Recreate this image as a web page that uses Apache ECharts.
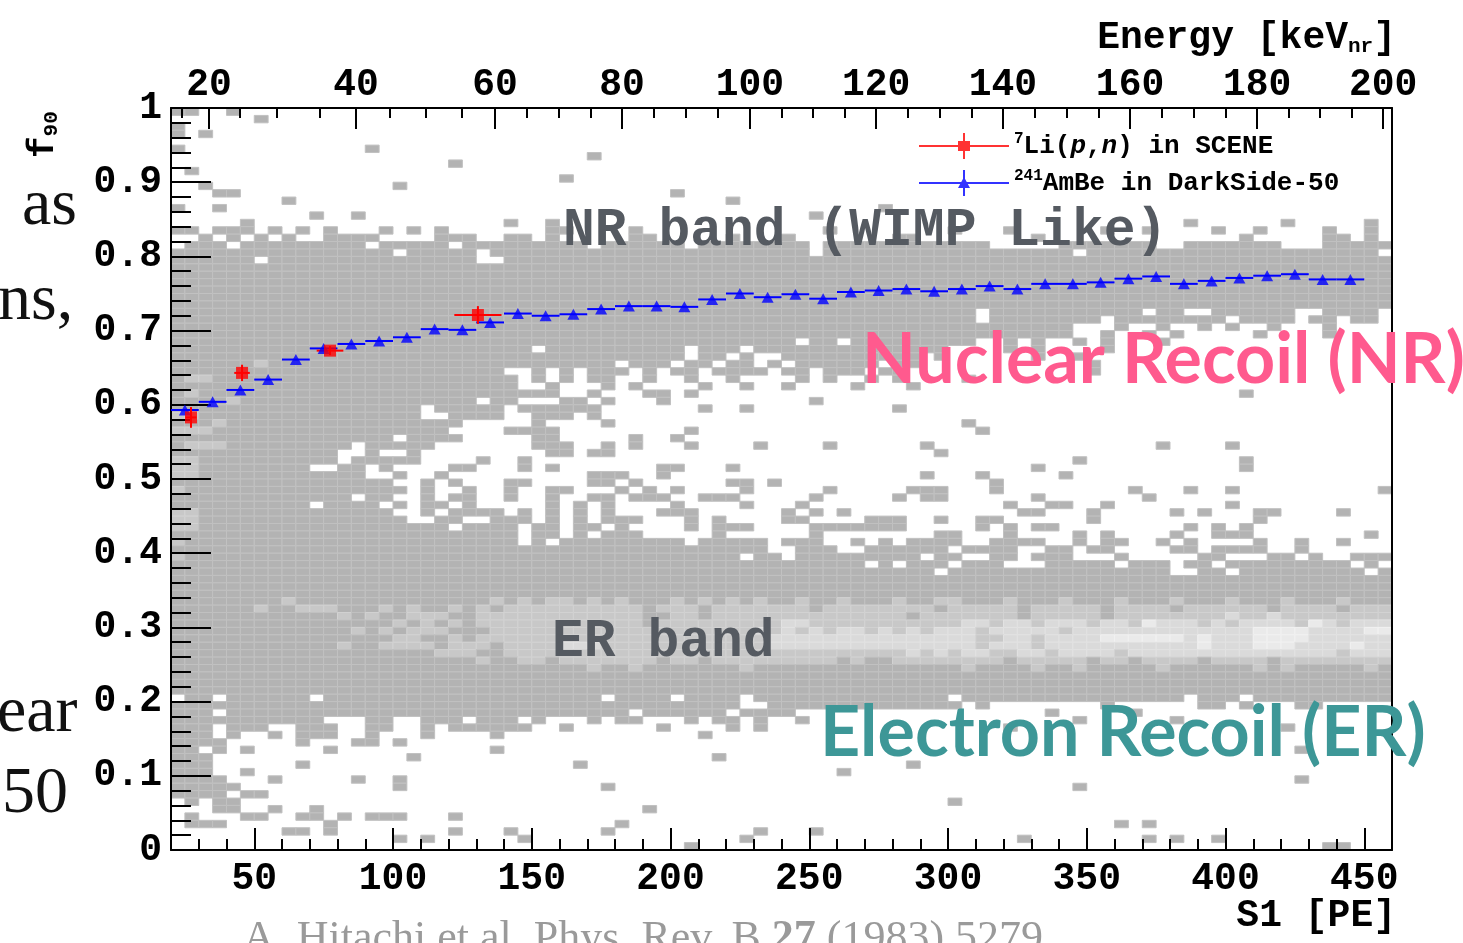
<!DOCTYPE html>
<html>
<head>
<meta charset="utf-8">
<title>f90 vs S1</title>
<script src="https://cdn.jsdelivr.net/npm/echarts@6/dist/echarts.min.js"></script>
<style>
  html, body { margin: 0; padding: 0; background: #fff; }
  #chart { width: 1463px; height: 943px; }
</style>
</head>
<body>
<div id="chart"></div>
<script>
// 2D histogram: S1 bins of 5 PE from 20, f90 bins of 0.01
const s1BinStart = 20
const s1BinWidth = 5
const f90BinWidth = 0.01
// one string per f90 bin, top row (0.99-1.00) first; '.' empty, a-d = grey shade (a darkest)
const heatRows = [
  'aa..a..... .......... .......... .......... .......... .......... .......... .......... ........',
  '......a... .......... .......... .......... .......... .......... .......... .......... ........',
  'a......... .......... .......... .......... .......... .......... .......... .......... ........',
  'a.a....... .......... .......... .......... .......... .......... .......... .......... ........',
  '.......... .......... .......... .......... .......... .......... .......... .......... ........',
  'a......... ....a..... .......... .......... .......... .......... .......... .......... ........',
  '.......... .......... .......... a......... .......... .......... .......... .......... ........',
  '.......... .......... a......... .......... .......... .......... .......... .......... ........',
  '.a........ .......... .......... .......... .......... .......... .......... .......... ........',
  '.......... .......... ........a. .......... .......... .......... .......... .......... ........',
  '..a....... ......a... .......... .......... .......... .......... .......... .......... ........',
  '...aa..... .......... .......... ......a... .......... .......... .......... .......... ........',
  '........a. .......... .......... .......... a......... .......... .......... .......... ........',
  'a..a...... .......... .......... .......... .......... .a........ .......... .......... ........',
  '.......... a..a...... .......... .......... ......a... .......... .......... .......... ........',
  '.....a.... .......... ....a..a.. .......... .......... .......... .......... ...a...... a.....a.',
  'aa.aaa.a.a .a...a.a.a .......aa. ...a...... .......a.. ......a... a......a.. a....a..a. ...a..a.',
  '..a.a.a.a. .aaaa....a aa..aa.a.. ...aa..... a...a..... ..aa...... ..a....... .......a.. ...aa.a.',
  '.aaa.aaaaa aaaa.aaaaa .aaaaaaaaa .aaaaaa.aa aaaaaa.aaa aaaaaaaaa. ....aaaaaa a..aaaaaaa ...aaaaa',
  'aaaaaaaaaa aaaaaa.aaa aa.aaaaaaa aaaaaaaaaa aaaaaa.aaa aaaaaaaaaa aaaaa.aaaa aaaaaaaaaa aaaaaaa.',
  'aaaaaa.aaa aaaaaaaaaa aa..aaaaaa aaaaaaaaaa aaaaaaaaaa aaaaaaaaaa aaaaaaaaaa aaaaaaaaaa aaaaaaaa',
  'aaaaaaaaaa aaaaaaaaaa aaaaaaaaaa aaaaaaaaaa aaaaaaaaaa aaaaaaaaaa aaaaaaaaaa aaaaaaaaaa aaaaaaaa',
  'aaaaaaaaaa aaaaaaaaaa aaaaaaaaaa aaaaaaaaaa aaaaaaaaaa aaaaaaaaaa aaaaaaaaaa aaaaaaaaaa aaaaaaaa',
  'aaaaaaaaaa aaaaaaaaaa aaaaaaaaaa aaaaaaaaaa aaaaaaaaaa aaaaaaaaaa aaaaaaaaaa aaaaaaaaaa aaaaaaaa',
  'aaaaaaaaaa aaaaaaaaaa aaaaaaaaaa aaaaaaaaaa aaaaaaaaaa aaaaaaaaaa aaaaaaaaaa aaaaaaaaaa aaaaaaaa',
  'aaaaaaaaaa aaaaaaaaaa aaaaaaaaaa aaaaaaaaaa aaaaaaaaaa aaaaaaaaaa aaaaaaaaaa aaaaaaaaaa aaaaaaaa',
  'aaaaaaaaaa aaaaaaaaaa aaaaaaaaaa aaaaaaaaaa aaaaaaaaaa aaaaaaaaaa aaaaaaaaaa aaaaaaaaaa aaaaaaaa',
  'aaaaaaaaaa aaaaaaaaaa aaaaaaaaaa aaaaaaaaaa aaaaaaaaaa aaaaaaaa.a aaaaaaaaaa .aa..aaaaa a..aaaa.',
  'aaaaaaaaaa aaaaaaaaaa aaaaaaaaaa aaaaaaaaaa aaaaaaaaaa aaaaaaaa.a aaaaaaa.aa aaaaaa.aaa a.aa.aa.',
  'aaaaaaaaaa aaaaaaaaaa aaaaaaaaaa aaaaaaaaaa aaaaaaaaaa aaaaaaaaaa aaaaa...a. .a..a.a..a ...a....',
  'aaaaaaaaaa aaaaaaaaaa aaaaaaaaaa aaaaaaaaaa aaaaaaaaaa aaaaaaaaaa aaaaa..a.. a.a.....a. ...a....',
  'aaaaaaaaaa aaaaaaaaaa aaaaaaaaaa aaaaaaaaaa aaaaa.aa.a aaaaaaaa.. a.a..a.a.. .a........ ........',
  'aaaaaaaaaa aaaaaaaaaa aaaaaa.aaa aaaaaaa.aa a.aaaaaaaa aaaaaa.... a.a....a.. .......... ........',
  'aaaaaaaaaa aaaaaaaaaa aaaaaaaaaa aaaaaaa.aa .a..aaaaaa aaaa.a.... ..a..a.... .......... ........',
  'aaaaaabaaa aaaaaaaaaa aaaaaaaaaa aa.aaa.aa. aa.a.aaaaa a.aa...... ......a... .......... ........',
  'aaaaaaaaaa aaaaaaaaaa aaaa..a.a. aaa.a.aa.a aaa.aa.aaa .aa....... ......a... .......... ........',
  'abbaaaaaaa aaaaaaaaaa aaaaa.a.a. aa..a..a.. a....a.a.. a.a....a.. .......... .......... ........',
  'aaaaaaaaaa aaaaaaaaaa aaaaa..a.. .a.a....a. .a..a....a ...a...... .......... .......... ........',
  'abaaaaaaaa aaaaaaaaaa aaaaaaaa.. a...aa.a.. .......... .......... .......... .......a.. ........',
  'aaaabaaaaa aaaaaaaaaa aa.aa...aa .a...a.... ......a... .......... .......... .......... ........',
  'aaaaaaaaaa aaaaaaaa.a aaaa.aaaaa a.......a. .a........ ..a....... .......... .......... ........',
  'bbaaaaaaaa aaaaaaaa.. aaaa..aaa. a......... .......... .......... .......... .......... ........',
  'aaabaaaaaa aaaaaaaaaa a.....a... .a........ .......... .......a.. .......... .......... ........',
  'bbbaaaaaaa aaaaaaaaaa ....aaaa.. .......a.. .......... ........a. .......... .......... ........',
  'aaaaaaaaaa aaaaaa.aaa a.....aa.. ...a..a... .......... .......... .......... .......... ........',
  'abbbaaaaaa aaa.aaaaa. ......aaa. .a.a...a.. ..a....a.. ....a..... .......... .a....a... ........',
  'aaaaaaaaaa aa..a..a.. .......aa. aa........ .......... .....a.... .......... .......... ........',
  'bbaaaaaaaa aa.aaaaa.. ..a..a.... .......... .......... .......... .....a.... .......a.. ........',
  'bbaaaaaaaa ..aa.a.... aa...a.a.. .....aa... a......... .......... ..a....... .......a.. ........',
  'bbaaaaaaaa aaaa..a..a .......... aaa..a.... .......... ....a...a. ....a..... .......... ........',
  'aaaaaaaaaa aaaaaa..a. a...aa.... aa.a...... aa.a...... .........a .......... .......... ........',
  'baaaaaaaaa aaaaaaa.a. .a..a..aa. ..a.a.a... .a.....a.. ...aaa...a .........a ...a..a... .......a',
  'aaaaaaaaaa aaa.aa..a. aa..a..a.. aa.aaa..aa a.....a... ..a.aa.... ..a....... a......... ........',
  'aaaaaaaaaa .aaaa.a.aa .a.....a.a .a....a... .a...a.... .......... a..aa..a.. ......a... ........',
  'bbaaaaaaaa aaaaaa..a. aaaa.a.a.a .a...aaa.. ....a.a.a. .......... .aa...a... ..a.a...aa ....a...',
  'bbaaaaaaaa aaaaaaa..a a..aaa.a.a .aaa...a.a ....aa.... aaa..a..aa ......a... ........a. ........',
  'bbaaaaaaaa aaaaaaaaaa .aaaa.aa.a a.a....a.a aa....aaaa aaa.....a. a.aa...... ...a.a.a.. ........',
  'aaaaaaaaaa aaaaaaaaaa aaaaa.aa.a .aaa.....a ......a... .....aa... a....a.a.. ..a..aaa.. ......a.',
  'baaaaaaaaa aaaaaaaaaa aaaaa.a.aa aaaaaaa.aa aaa.aaa..a .a.aaaa..a aaa..a.aa. .a.a....a. .a..a...',
  'aaaaaaaaaa aaaaaaaaaa aaaaaaaaaa aaaaaaaaaa aaa..aaa.. aaaaaa.aaa a..aa.aa.. ..aa.aaaa. .a......',
  'baaaaaaaaa aaaaaaaaaa aaaaaaaaaa aaaaaaaaaa a.aa.aaaaa aaaa.aa..a a.aaa...a. ....aa...a a.a..aaa',
  'aaaaaaaaaa aaaaaaaaaa aaaaaaaaaa aaaaaaaaaa aaaaaaaaaa .a.aaa.aaa ...aaaaa.a aa.aa.aaaa aaaaa.a.',
  'aaaaaaaaaa aaaaaaaaaa aaaaaaaaaa aaaaaaaaaa aaaaaaaaaa aaaaa.aaaa aaaaaaaaaa aa..aa.aaa aaaaaa.a',
  'aaaaaaaaaa aaaaaaaaaa aaaaaaaaaa aaaaaaaaaa aaaaaaaaaa aaaaaaaaaa aaaaaaaaaa aaaaaaaaaa aaaaaaaa',
  'aaaaaaaaaa aaaaaaaaaa aaaaaaaaaa aaaaaaaaaa aaaaaaaaaa aaaaaaaaaa aaaaaaaaaa aaaaaaaaaa aaaaaaaa',
  'aaaaaaaaaa aaaaaaaaaa aaaaaaaaaa aaaaaaaaaa aaaaaaaaaa aaaaaaaaaa aaaaaaaaaa aaaaaaaaaa aaaaaaaa',
  'aaaaaaaaba aaaaaaaaaa aaabababba babaaababa babaabaaba aabaabbaaa baaabaaaba aabaaabaaa baaabaaa',
  'aaaaaabaab bbaaababaa bababbbbbb bbbbabbbab bbbbbbabbb bbbbbabbbb babbbbbabb bbabbbbbba bbbbabbb',
  'aaaaaaaaaa aababaabbb aabbbbbbbb bbbbaabbab bbbbbbbbbb bbbabbbbbb babbbbbabb bbbbbbcbbc bbbbbbbb',
  'aaaaaaaaaa aaaaaababa babbbbbbbb bbbbabbbbb bbbbccbbbb bbbbbbbccb ccbcccbccb dcccbcbccc cbdcbccc',
  'aaaaaaaaaa aaabababbb aaabbbbbbb bbbbbbbbbb bbcbcbcbcc bcbcbcccbc ccccbccccc ccccccccdd ddccccdd',
  'aaaaaaaaaa aaaaaabbaa babbbbbbbb bbbbbbbbbb bbbccccccc ccccccccbb ccbccccddd dddcdcccdd ddcccccc',
  'aaaaaaaaaa aabaabbbba bbbabbbbcc cbbbbbbbbb bbbccccccc ccccccccbc ccbccccccc ccccdcccdd dccccdcc',
  'aaaaaaaaaa aaaaaaaaab bbaabbbbbb bbbbbbbbbb bbbbbbbbbb bbbcbcbccb bccbccccbc cccccccccc ccccbccc',
  'aaaaaaaaaa aaaaaaaaaa aabaabbabb bbbbbabbab bbbbbbbbab aabbbbbbbb abbbbbabba bbbbabbbba bbbbbbbb',
  'aaaaaaaaaa aaaaaaaaaa aaaaaaaaaa baabaaaaaa abaaaaaaaa aaaaaaabaa aabaabaaaa abaaaaaaba baaaaaba',
  'aaaaaaaaaa aaaaaaaaaa aaaaaaaaaa aaaaaaaaaa aaaaaaaaaa aaaaaaaaaa aaaaaaaaaa aaaaaaaaaa aaaaaaaa',
  'aaaaaaaaaa aaaaaaaaaa aaaaaaaaaa aaaaaaaaaa aaaaaaaaaa aaaaaaaaaa aaaaaaaaaa aaaaaaaaaa aaaaaaaa',
  'aaaaaaaaaa aaaaaaaaaa aaaaaaaaaa aaaaaaaaaa aaaaaaaaaa aaaaaaaaaa aaaaaaaaaa aaaaaaaaaa aaaaaaaa',
  '.aa.aaaaaa .aaaaaaaaa aaaaaaaaaa a.aaaa.aaa a.aaaaaaaa aaaaaa.aaa aaaaaaaaaa aaa.aaa.aa aaaaaaaa',
  'aaaaaaaaaa aaaaaaaaaa aaaaaaaaaa aaaaaaaaaa a..aaaaaaa aaaaaaa.a. .......a.. ....aa.a.. .aa.....',
  'aaa.aaaaaa aaaaaaaaaa aaaaaaaaaa aaa.aaaaaa .aaaa..... .......... ...a.....a .......... ........',
  'aaaaaaaaaa a...aa..aa a.aaa.a... a.aa...a.a a.a..a.... .......... .....a.... ..a....... ........',
  'aaa.aaa..a aa..aa..a. aaaaaa..a. .....a.... a.a....... .......... a......... .......... a.......',
  'aaa.a..a.a aa..a...a. ...a...... ........a. .......... .......... .......... .......... ........',
  'aaaa.....a ...aa.a... .......... .......... .......... .......... .......... .......... ........',
  'aa.a.a.... .a........ ...a...... .......... .......... .......... .......... .......... .a......',
  'aaa....... .......a.. .......... .........a .......... .......... .......... .......... ........',
  'aaa......a .......... .........a .......... .......... ...a...... .......... .......... ........',
  'aaa..a.... .......... .......... .......... ........a. .......... .......... .......... ........',
  'aaaa...a.. ...a..a... .......... .......... .......... .......... .......... .......... .a......',
  'aaaaa..... ......a... .......... .a........ .......... .......... .....a.... .......... ........',
  'aaaa.aa... .......... .......... .......... .......... .......... .......... .......... ........',
  '.a.aa..... .......... .......... .......... .......... ......a... .......... .......... ........',
  '...aa..a.. a......... .......... ....a..... .......... .......... .......... .......... ........',
  '.a...aa..a a.a.aaa... a......... .......... .......... .......... .......... .......... ........',
  '.aaa...... .a........ .......... ..a....... .......... .......... ........a. a......... ........',
  '........aa .a........ a...a..... .a........ ..a...a... .......... .......... .......... ........',
  '.......... ......a.a. .....a.... .......... .a........ .......... .a........ a.a..a.... ........',
  '.......... .......... .......... .......a.. .......... .......... .......... .......... ...aa...'
]

// 7Li(p,n) in SCENE
const sceneS1 = [27.2, 45.6, 77.3, 130.6]
const sceneF90 = [0.583, 0.643, 0.673, 0.721]
const sceneS1Err = [2, 2.8, 4.8, 8.5]
const sceneF90Err = [0.014, 0.011, 0.006, 0.012]

// 241AmBe in DarkSide-50 (10 PE wide bins)
const ambeS1 = [25, 35, 45, 55, 65, 75, 85, 95, 105, 115, 125, 135, 145, 155, 165, 175, 185, 195, 205, 215, 225,
  235, 245, 255, 265, 275, 285, 295, 305, 315, 325, 335, 345, 355, 365, 375, 385, 395, 405, 415, 425, 435, 445]
const ambeF90 = [0.593, 0.604, 0.620, 0.634, 0.661, 0.676, 0.682, 0.686, 0.691, 0.702, 0.701, 0.711, 0.723, 0.720,
  0.722, 0.729, 0.733, 0.733, 0.732, 0.742, 0.750, 0.745, 0.749, 0.743, 0.752, 0.754, 0.756, 0.753, 0.756, 0.760,
  0.756, 0.763, 0.763, 0.765, 0.770, 0.773, 0.763, 0.767, 0.771, 0.774, 0.776, 0.769, 0.769]
const ambeS1Err = 5

// axis ticks
const s1Major = [50, 100, 150, 200, 250, 300, 350, 400, 450]
const s1Minor = [30, 40, 60, 70, 80, 90, 110, 120, 130, 140, 160, 170, 180, 190, 210, 220, 230, 240, 260, 270, 280,
  290, 310, 320, 330, 340, 360, 370, 380, 390, 410, 420, 430, 440]
// top axis: energy [keVnr] ticks and where they sit on the S1 scale
const energyLabels = [20, 40, 60, 80, 100, 120, 140, 160, 180, 200]
const energyMajorS1 = [33.7, 86.7, 136.8, 182.5, 228.6, 274.1, 319.8, 365.6, 411.4, 456.8]
const energyMinorS1 = [23.9, 44.9, 58.2, 73.7, 98.9, 111.8, 124.8, 148.2, 159.7, 171.1, 194.0, 205.6, 217.1,
  240.0, 251.4, 262.8, 285.5, 297.0, 308.4, 331.3, 342.7, 354.2, 377.1, 388.5, 400.0, 422.8, 434.1, 445.5]

const MONO = '"Liberation Mono", "DejaVu Sans Mono", monospace'
const SERIF = '"Liberation Serif", "DejaVu Serif", serif'
const SANS = 'Lato, "Open Sans", sans-serif'
const shadeFill = ['#ffffff', '#b3b3b3', '#c8c8c8', '#dadada', '#eaeaea']
const shadeEdge = ['#ffffff', '#c1c1c1', '#d2d2d2', '#e2e2e2', '#f1f1f1']

const heatCells = []
heatRows.forEach(function (row, k) {
  const cells = row.replace(/ /g, '')
  for (let c = 0; c < cells.length; c++) {
    const lv = '.abcd'.indexOf(cells[c])
    if (lv <= 0) continue
    heatCells.push([s1BinStart + c * s1BinWidth, +(1 - (k + 1) * f90BinWidth).toFixed(2), lv])
  }
})

const sceneData = sceneS1.map((x, i) => [x, sceneF90[i], sceneS1Err[i], sceneF90Err[i]])
const ambeData = ambeS1.map((x, i) => [x, ambeF90[i], ambeS1Err, 0])

function renderCell (params, api) {
  const s1 = api.value(0), f = api.value(1), lv = api.value(2)
  const tl = api.coord([s1, f + f90BinWidth])
  const br = api.coord([s1 + s1BinWidth, f])
  return {
    type: 'rect',
    shape: { x: tl[0], y: tl[1], width: br[0] - tl[0], height: br[1] - tl[1] },
    style: { fill: shadeFill[lv], stroke: shadeEdge[lv], lineWidth: 1 }
  }
}

function errorBars (color) {
  return function (params, api) {
    const x = api.value(0), y = api.value(1), ex = api.value(2), ey = api.value(3)
    const l = api.coord([x - ex, y]), r = api.coord([x + ex, y])
    const t = api.coord([x, y + ey]), b = api.coord([x, y - ey])
    const st = { stroke: color, lineWidth: 2 }
    return {
      type: 'group',
      children: [
        { type: 'line', shape: { x1: l[0], y1: l[1], x2: r[0], y2: r[1] }, style: st },
        { type: 'line', shape: { x1: t[0], y1: t[1], x2: b[0], y2: b[1] }, style: st }
      ]
    }
  }
}

const NAME_LI = '7Li(p,n) in SCENE'
const NAME_AMBE = '241AmBe in DarkSide-50'
const labelFont = { fontFamily: MONO, fontWeight: 'bold', fontSize: 38, color: '#000' }
const tickStyle = { color: '#000', width: 2 }
const subStyle = { fontFamily: MONO, fontWeight: 'bold', fontSize: 21, verticalAlign: 'bottom', lineHeight: 18 }

const chart = echarts.init(document.getElementById('chart'))
chart.setOption({
  animation: false,
  backgroundColor: '#fff',
  grid: { left: 171, right: 71, top: 108, bottom: 93 },
  xAxis: [
    {
      type: 'value', position: 'bottom', min: 20, max: 460, z: 3,
      axisLine: { lineStyle: { color: '#000', width: 2 } },
      axisTick: { customValues: s1Major, inside: true, length: 22, lineStyle: tickStyle },
      axisLabel: Object.assign({ customValues: s1Major, margin: 10 }, labelFont),
      splitLine: { show: false }
    },
    {
      type: 'value', position: 'bottom', min: 20, max: 460, z: 3,
      axisLine: { show: false },
      axisTick: { customValues: s1Minor, inside: true, length: 11, lineStyle: tickStyle },
      axisLabel: { show: false },
      splitLine: { show: false }
    },
    {
      type: 'value', position: 'top', min: 20, max: 460, z: 3,
      axisLine: { lineStyle: { color: '#000', width: 2 } },
      axisTick: { customValues: energyMajorS1, inside: true, length: 21, lineStyle: tickStyle },
      axisLabel: Object.assign({
        customValues: energyMajorS1,
        margin: 4,
        formatter: function (v) {
          const i = energyMajorS1.findIndex(s => Math.abs(s - v) < 1e-6)
          return i >= 0 ? String(energyLabels[i]) : ''
        }
      }, labelFont),
      splitLine: { show: false }
    },
    {
      type: 'value', position: 'top', min: 20, max: 460, z: 3,
      axisLine: { show: false },
      axisTick: { customValues: energyMinorS1, inside: true, length: 10, lineStyle: tickStyle },
      axisLabel: { show: false },
      splitLine: { show: false }
    }
  ],
  yAxis: [
    {
      type: 'value', position: 'left', min: 0, max: 1, interval: 0.1, z: 3,
      axisLine: { show: true, lineStyle: { color: '#000', width: 2 } },
      axisTick: { show: true, inside: true, length: 40, lineStyle: tickStyle },
      minorTick: { show: true, splitNumber: 5, length: 20, lineStyle: tickStyle },
      axisLabel: Object.assign({
        margin: 9,
        formatter: function (v) { return (v === 0 || v === 1) ? String(v) : v.toFixed(1) }
      }, labelFont),
      splitLine: { show: false }
    },
    {
      type: 'value', position: 'right', min: 0, max: 1, z: 3,
      axisLine: { show: true, lineStyle: { color: '#000', width: 2 } },
      axisTick: { show: false },
      axisLabel: { show: false },
      splitLine: { show: false }
    }
  ],
  legend: {
    orient: 'vertical',
    left: 914,
    top: 126,
    itemWidth: 90,
    itemHeight: 26,
    itemGap: 7,
    itemStyle: { borderWidth: 0 },
    textStyle: {
      fontFamily: MONO, fontWeight: 'bold', fontSize: 26, color: '#000', lineHeight: 30,
      rich: {
        sup: { fontFamily: MONO, fontWeight: 'bold', fontSize: 16, lineHeight: 18, verticalAlign: 'top' },
        it: { fontFamily: MONO, fontWeight: 'bold', fontStyle: 'italic', fontSize: 26, lineHeight: 30 }
      }
    },
    formatter: function (name) {
      if (name === NAME_LI) return '{sup|7}Li({it|p},{it|n}) in SCENE'
      return '{sup|241}AmBe in DarkSide-50'
    },
    data: [
      { name: NAME_LI, icon: 'path://M0,12H90V14H0Z M44,0H46V26H44Z M39,8H51V18H39Z' },
      { name: NAME_AMBE, icon: 'path://M0,12H90V14H0Z M44,0H46V26H44Z M39,18L45,7L51,18Z' }
    ]
  },
  series: [
    {
      type: 'custom',
      name: 'f90 vs S1',
      renderItem: renderCell,
      data: heatCells,
      encode: { x: 0, y: 1 },
      clip: true,
      silent: true,
      progressive: 0,
      z: 1
    },
    {
      type: 'custom',
      name: NAME_AMBE + ' bars',
      renderItem: errorBars('#0000ff'),
      data: ambeData,
      encode: { x: 0, y: 1 },
      z: 4
    },
    {
      type: 'custom',
      name: NAME_LI + ' bars',
      renderItem: errorBars('#ff0000'),
      data: sceneData,
      encode: { x: 0, y: 1 },
      z: 4
    },
    {
      type: 'scatter',
      name: NAME_AMBE,
      symbol: 'triangle',
      symbolSize: [12, 11],
      itemStyle: { color: '#0000ff' },
      data: ambeData.map(d => [d[0], d[1]]),
      z: 5
    },
    {
      type: 'scatter',
      name: NAME_LI,
      symbol: 'rect',
      symbolSize: 12,
      itemStyle: { color: '#ff0000' },
      data: sceneData.map(d => [d[0], d[1]]),
      z: 6
    }
  ],
  graphic: [
    { type: 'text', x: 563, y: 232, z: 10, style: { text: 'NR band (WIMP Like)', font: 'bold 53px ' + MONO, fill: '#555a61', verticalAlign: 'middle' } },
    { type: 'text', x: 552, y: 643, z: 10, style: { text: 'ER band', font: 'bold 53px ' + MONO, fill: '#555a61', verticalAlign: 'middle' } },
    { type: 'text', x: 862, y: 360, z: 10, style: { text: 'Nuclear Recoil (NR)', font: 'bold 70px ' + SANS, fill: '#ff5a8e', verticalAlign: 'middle' } },
    { type: 'text', x: 820, y: 733, z: 10, style: { text: 'Electron Recoil (ER)', font: 'bold 70px ' + SANS, fill: '#3d9797', verticalAlign: 'middle' } },
    {
      type: 'text', x: 44, y: 158, rotation: Math.PI / 2, z: 10,
      style: { text: 'f{s|90}', font: 'bold 36px ' + MONO, fill: '#000', verticalAlign: 'middle', rich: { s: subStyle } }
    },
    {
      type: 'text', x: 1396, y: 38, z: 10,
      style: { text: 'Energy [keV{s|nr}]', font: 'bold 38px ' + MONO, fill: '#000', align: 'right', verticalAlign: 'middle', rich: { s: subStyle } }
    },
    { type: 'text', x: 1396, y: 916, z: 10, style: { text: 'S1 [PE]', font: 'bold 38px ' + MONO, fill: '#000', align: 'right', verticalAlign: 'middle' } },
    { type: 'text', x: 22, y: 207, z: 10, style: { text: 'as', font: '66px ' + SERIF, fill: '#111', verticalAlign: 'middle' } },
    { type: 'text', x: -2, y: 302, z: 10, style: { text: 'ns,', font: '66px ' + SERIF, fill: '#111', verticalAlign: 'middle' } },
    { type: 'text', x: -3, y: 714, z: 10, style: { text: 'ear', font: '66px ' + SERIF, fill: '#111', verticalAlign: 'middle' } },
    { type: 'text', x: 2, y: 795, z: 10, style: { text: '50', font: '66px ' + SERIF, fill: '#111', verticalAlign: 'middle' } },
    {
      type: 'text', x: 243, y: 939, z: 10,
      style: {
        text: 'A. Hitachi et al. Phys. Rev. B {b|27} (1983) 5279', font: '44px ' + SERIF, fill: '#9a9a9a', verticalAlign: 'middle',
        rich: { b: { fontFamily: SERIF, fontWeight: 'bold', fontSize: 44, fill: '#9a9a9a' } }
      }
    }
  ]
})
</script>
</body>
</html>
